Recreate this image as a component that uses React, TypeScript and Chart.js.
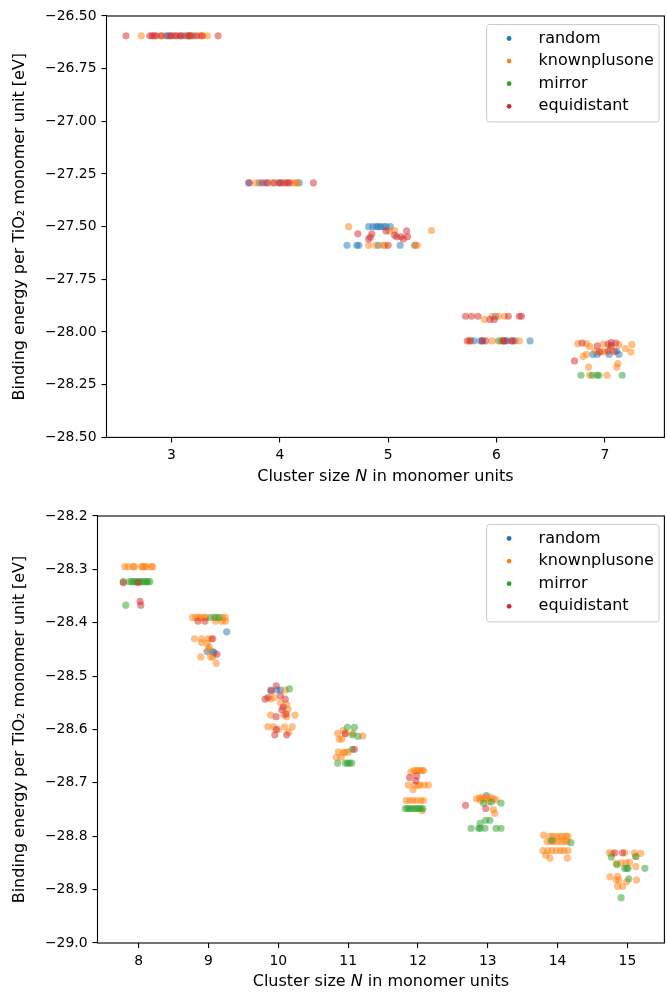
import React, { useEffect, useRef } from "react";
import { Chart, registerables } from "chart.js";
Chart.register(...registerables);

const FONT = "DejaVu Sans";
const FS = 13.9;
const LFS = 16;

const seriesNames = ["random", "knownplusone", "mirror", "equidistant"];
const seriesRGB = ["31,119,180", "255,127,14", "44,160,44", "214,39,40"];

const topXTicks = [3, 4, 5, 6, 7];
const topYTicks = [-28.5, -28.25, -28.0, -27.75, -27.5, -27.25, -27.0, -26.75, -26.5];
const botXTicks = [8, 9, 10, 11, 12, 13, 14, 15];
const botYTicks = [-29.0, -28.9, -28.8, -28.7, -28.6, -28.5, -28.4, -28.3, -28.2];

// ---- top panel (N = 3..7) ----
const topRandom = [
  [2.95, -26.594], [2.99, -26.594], [3.12, -26.594], [3.17, -26.594], [3.2, -26.594],
  [3.71, -27.292], [3.81, -27.292], [3.87, -27.292], [3.99, -27.292], [4.18, -27.292],
  [4.82, -27.5], [4.86, -27.5], [4.89, -27.5], [4.91, -27.5], [4.93, -27.5], [4.96, -27.5], [4.98, -27.5], [5.02, -27.5],
  [4.62, -27.588], [4.71, -27.588], [4.73, -27.588], [4.91, -27.588], [5.11, -27.588], [5.245, -27.588],
  [5.99, -27.925],
  [5.79, -28.042], [5.85, -28.042], [5.87, -28.042], [6.08, -28.042], [6.1, -28.042], [6.17, -28.042], [6.31, -28.042],
  [6.89, -28.106], [6.93, -28.106], [7.04, -28.106], [7.11, -28.09], [7.13, -28.106],
];
const topKnown = [
  [2.72, -26.594], [2.9, -26.594], [3.15, -26.594], [3.19, -26.594], [3.26, -26.594], [3.29, -26.594], [3.33, -26.594],
  [3.78, -27.292], [3.93, -27.292], [4.12, -27.292], [4.15, -27.292], [4.16, -27.292],
  [4.635, -27.5], [5.4, -27.518], [5.01, -27.52], [5.06, -27.518],
  [4.82, -27.588], [4.885, -27.588], [4.955, -27.588], [4.97, -27.588], [5.25, -27.588], [5.27, -27.588],
  [5.96, -27.925], [6.02, -27.925], [6.075, -27.925], [5.89, -27.94],
  [5.75, -28.042], [5.96, -28.042], [6.04, -28.042], [6.21, -28.042],
  [6.75, -28.055], [6.83, -28.055], [6.86, -28.068], [6.985, -28.057], [7.13, -28.06], [7.25, -28.06],
  [7.19, -28.079], [7.24, -28.095], [6.8, -28.115], [6.83, -28.106], [6.91, -28.09], [6.97, -28.093],
  [7.0, -28.095], [7.05, -28.075], [6.85, -28.166], [7.12, -28.15], [7.11, -28.166], [6.86, -28.205], [7.02, -28.205],
];
const topMirror = [
  [6.02, -28.042],
  [6.78, -28.205], [6.885, -28.205], [6.93, -28.205], [6.945, -28.205], [7.16, -28.205],
];
const topEquidistant = [
  [2.58, -26.594], [2.8, -26.594], [2.82, -26.594], [2.84, -26.594], [2.86, -26.594], [2.91, -26.594],
  [2.97, -26.594], [3.0, -26.594], [3.03, -26.594], [3.05, -26.594], [3.08, -26.594], [3.09, -26.594],
  [3.15, -26.594], [3.17, -26.594], [3.23, -26.594], [3.28, -26.594], [3.43, -26.594],
  [3.72, -27.292], [3.84, -27.292], [3.89, -27.292], [3.95, -27.292], [4.0, -27.292], [4.02, -27.292],
  [4.05, -27.292], [4.07, -27.292], [4.09, -27.292], [4.31, -27.292],
  [4.98, -27.52], [5.17, -27.52], [4.72, -27.534], [4.85, -27.534], [4.82, -27.558], [4.835, -27.55],
  [5.06, -27.54], [5.08, -27.548], [5.12, -27.548], [5.14, -27.558], [5.18, -27.548], [5.0, -27.588],
  [5.715, -27.925], [5.77, -27.925], [5.83, -27.925], [6.11, -27.925], [6.21, -27.925], [6.23, -27.925],
  [5.94, -27.94], [5.98, -27.94],
  [5.73, -28.042], [5.76, -28.042], [5.87, -28.042], [5.9, -28.042], [6.06, -28.042], [6.07, -28.042], [6.14, -28.042], [6.15, -28.042],
  [6.79, -28.052], [6.93, -28.066], [7.03, -28.057], [7.06, -28.05], [7.1, -28.052], [6.95, -28.095],
  [7.03, -28.09], [7.09, -28.093], [6.72, -28.137], [7.06, -28.065],
];

// ---- bottom panel (N = 8..15) ----
const botRandom = [
  [9.26, -28.417], [8.98, -28.454], [9.06, -28.454], [9.08, -28.456],
  [9.89, -28.526], [9.98, -28.526], [10.03, -28.526],
  [12.98, -28.724],
];
const botKnown = [
  [7.8, -28.295], [7.85, -28.295], [7.92, -28.295], [7.94, -28.295], [8.04, -28.295], [8.06, -28.295],
  [8.085, -28.295], [8.11, -28.295], [8.18, -28.295], [8.2, -28.295],
  [8.77, -28.39], [8.82, -28.39], [8.86, -28.39], [8.89, -28.39], [8.94, -28.39], [8.96, -28.39], [9.08, -28.39], [9.2, -28.39], [9.24, -28.39],
  [9.1, -28.397], [9.19, -28.397], [9.24, -28.397],
  [8.8, -28.43], [8.9, -28.43], [8.99, -28.43], [9.04, -28.43], [8.9, -28.437], [8.98, -28.439], [9.01, -28.445],
  [9.0, -28.45], [8.89, -28.464], [9.03, -28.464], [9.06, -28.464], [9.11, -28.476],
  [10.1, -28.526], [9.89, -28.543], [9.94, -28.54], [10.03, -28.55], [10.12, -28.553], [10.14, -28.562],
  [10.24, -28.573], [9.89, -28.573], [10.08, -28.573], [10.12, -28.576],
  [9.85, -28.595], [9.93, -28.595], [10.09, -28.595], [10.2, -28.595], [10.0, -28.6], [10.15, -28.605],
  [10.85, -28.607], [10.87, -28.618], [10.91, -28.618], [10.93, -28.602], [10.96, -28.607], [11.07, -28.607], [11.21, -28.612],
  [10.86, -28.642], [10.93, -28.643], [10.96, -28.643], [11.0, -28.642], [10.83, -28.652], [10.9, -28.652],
  [11.94, -28.677], [11.97, -28.677], [12.0, -28.677], [12.03, -28.677], [12.06, -28.677], [12.08, -28.677], [11.9, -28.68],
  [11.86, -28.704], [11.95, -28.704], [12.03, -28.704], [12.09, -28.704], [12.15, -28.704], [12.0, -28.705], [11.93, -28.713],
  [11.83, -28.733], [11.88, -28.733], [11.93, -28.733], [11.98, -28.733], [12.04, -28.733], [12.08, -28.733], [12.06, -28.752],
  [12.84, -28.73], [12.88, -28.728], [12.92, -28.727], [12.95, -28.73], [13.0, -28.728], [13.04, -28.727],
  [13.08, -28.73], [13.12, -28.732], [12.9, -28.733], [13.02, -28.735], [13.08, -28.75], [13.1, -28.757],
  [13.8, -28.798], [13.89, -28.8], [13.93, -28.8], [13.98, -28.8], [14.03, -28.8], [14.07, -28.8], [14.12, -28.8], [14.15, -28.8],
  [13.85, -28.81], [13.9, -28.81], [13.95, -28.81], [14.0, -28.81], [14.05, -28.81], [14.1, -28.81], [14.14, -28.81],
  [13.79, -28.827], [13.86, -28.827], [13.92, -28.827], [13.98, -28.827], [14.04, -28.827], [14.09, -28.827], [14.15, -28.827],
  [13.83, -28.835], [13.89, -28.841], [14.14, -28.841],
  [14.74, -28.831], [14.78, -28.832], [14.96, -28.831], [15.1, -28.831], [15.19, -28.832], [15.12, -28.838],
  [14.84, -28.851], [14.91, -28.85], [14.98, -28.85], [15.03, -28.849], [15.12, -28.857], [14.75, -28.876],
  [14.84, -28.882], [14.88, -28.882], [14.99, -28.885], [15.13, -28.882], [14.86, -28.894], [14.93, -28.894], [14.86, -28.875],
];
const botMirror = [
  [7.78, -28.323], [7.87, -28.323], [7.9, -28.323], [7.93, -28.323], [7.96, -28.323], [7.99, -28.323], [8.02, -28.323],
  [8.05, -28.323], [8.08, -28.323], [8.11, -28.323], [8.13, -28.323], [8.16, -28.323], [7.815, -28.367],
  [9.03, -28.39], [9.11, -28.39], [9.15, -28.39],
  [10.16, -28.524],
  [10.99, -28.596], [11.09, -28.596], [11.06, -28.61], [11.14, -28.613], [11.06, -28.637],
  [10.85, -28.663], [10.96, -28.663], [10.99, -28.663], [11.02, -28.663], [11.05, -28.663],
  [11.82, -28.748], [11.85, -28.748], [11.88, -28.748], [11.91, -28.748], [11.95, -28.748], [11.98, -28.748],
  [12.01, -28.748], [12.04, -28.748], [12.07, -28.748],
  [12.94, -28.738], [13.19, -28.738], [13.05, -28.736], [12.89, -28.776], [12.97, -28.77], [13.03, -28.77],
  [12.76, -28.785], [12.87, -28.785], [12.89, -28.785], [12.96, -28.785], [13.12, -28.785], [13.19, -28.785],
  [13.92, -28.808], [14.19, -28.812],
  [14.77, -28.839], [15.12, -28.838], [14.85, -28.853], [14.96, -28.86], [15.01, -28.86], [14.99, -28.86],
  [15.25, -28.86], [14.91, -28.915], [15.02, -28.88],
];
const botEquidistant = [
  [7.78, -28.325], [7.99, -28.325], [8.02, -28.36], [8.03, -28.367],
  [8.85, -28.397], [8.95, -28.397], [9.06, -28.43], [9.12, -28.459],
  [9.97, -28.518], [9.9, -28.528], [9.81, -28.543], [9.85, -28.54], [10.03, -28.537], [10.1, -28.543],
  [10.07, -28.558], [10.05, -28.563], [9.97, -28.576], [10.11, -28.571], [9.97, -28.6], [9.95, -28.61], [10.12, -28.61],
  [10.96, -28.608], [11.09, -28.637],
  [11.88, -28.69], [11.98, -28.687], [11.97, -28.696],
  [12.68, -28.742], [12.97, -28.748],
  [14.82, -28.831], [14.93, -28.831],
];

type Panel = {
  series: number[][][];
  xMin: number; xMax: number; xTicks: number[];
  yMin: number; yMax: number; yTicks: number[]; yDigits: number;
  padTop: number; yAxisWidth: number; xAxisHeight: number;
};

const W = 668;
const H = 497;

const panels: Panel[] = [
  {
    series: [topRandom, topKnown, topMirror, topEquidistant],
    xMin: 2.4, xMax: 7.55, xTicks: topXTicks,
    yMin: -28.5, yMax: -26.5, yTicks: topYTicks, yDigits: 2,
    padTop: 16, yAxisWidth: 106.5, xAxisHeight: 59.6,
  },
  {
    series: [botRandom, botKnown, botMirror, botEquidistant],
    xMin: 7.41, xMax: 15.53, xTicks: botXTicks,
    yMin: -29.0, yMax: -28.2, yTicks: botYTicks, yDigits: 1,
    padTop: 19, yAxisWidth: 97.5, xAxisHeight: 51,
  },
];

const decor = {
  id: "decor",
  afterDraw(chart: any) {
    const { ctx, chartArea: a } = chart;
    ctx.save();
    // frame
    ctx.strokeStyle = "#000";
    ctx.lineWidth = 1.1;
    ctx.strokeRect(a.left, a.top, a.right - a.left, a.bottom - a.top);
    // x title with italic N
    const normal = `${LFS}px "${FONT}"`;
    const italic = `italic ${LFS}px "${FONT}"`;
    const parts: [string, string][] = [["Cluster size ", normal], ["N", italic], [" in monomer units", normal]];
    let total = 0;
    const widths = parts.map(([t, f]) => { ctx.font = f; const w = ctx.measureText(t).width; total += w; return w; });
    let x = (a.left + a.right) / 2 - total / 2;
    const ty = a.bottom + 39;
    ctx.fillStyle = "#000";
    ctx.textAlign = "left";
    ctx.textBaseline = "middle";
    parts.forEach(([t, f], i) => { ctx.font = f; ctx.fillText(t, x, ty); x += widths[i]; });
    // legend
    const bw = 172.5, bh = 97.4;
    const bx = a.right - 5.3 - bw;
    const by = a.top + 8.5;
    const r = 2.8;
    ctx.beginPath();
    ctx.moveTo(bx + r, by);
    ctx.lineTo(bx + bw - r, by);
    ctx.arcTo(bx + bw, by, bx + bw, by + r, r);
    ctx.lineTo(bx + bw, by + bh - r);
    ctx.arcTo(bx + bw, by + bh, bx + bw - r, by + bh, r);
    ctx.lineTo(bx + r, by + bh);
    ctx.arcTo(bx, by + bh, bx, by + bh - r, r);
    ctx.lineTo(bx, by + r);
    ctx.arcTo(bx, by, bx + r, by, r);
    ctx.closePath();
    ctx.fillStyle = "rgba(255,255,255,0.8)";
    ctx.fill();
    ctx.strokeStyle = "#cccccc";
    ctx.lineWidth = 1;
    ctx.stroke();
    ctx.font = normal;
    seriesNames.forEach((name, i) => {
      const ry = by + 14 + i * 22.6;
      ctx.beginPath();
      ctx.arc(bx + 22.5, ry, 2.4, 0, Math.PI * 2);
      ctx.fillStyle = `rgb(${seriesRGB[i]})`;
      ctx.fill();
      ctx.fillStyle = "#000";
      ctx.fillText(name, bx + 52, ry);
    });
    ctx.restore();
  },
};

function PanelChart({ p, top }: { p: Panel; top: number }) {
  const ref = useRef<HTMLCanvasElement>(null);
  useEffect(() => {
    if (!ref.current) return;
    const order = [4, 3, 2, 1];
    const chart = new Chart(ref.current, {
      type: "scatter",
      data: {
        datasets: p.series.map((pts, i) => ({
          label: seriesNames[i],
          data: pts.map(([x, y]) => ({ x, y })),
          backgroundColor: `rgba(${seriesRGB[i]},0.5)`,
          borderWidth: 0,
          pointRadius: 3.6,
          pointHoverRadius: 3.6,
          order: order[i],
        })),
      },
      options: {
        animation: false,
        responsive: false,
        devicePixelRatio: 1,
        events: [],
        layout: { padding: { top: p.padTop, left: 0, right: 0, bottom: 0 } },
        plugins: { legend: { display: false }, tooltip: { enabled: false } },
        scales: {
          x: {
            type: "linear",
            min: p.xMin,
            max: p.xMax,
            afterBuildTicks: (s: any) => { s.ticks = p.xTicks.map((v) => ({ value: v })); },
            afterFit: (s: any) => { s.height = p.xAxisHeight; },
            ticks: {
              font: { family: FONT, size: FS },
              color: "#000",
              padding: 5,
              maxRotation: 0,
              autoSkip: false,
              callback: (v: any) => String(v),
            },
            grid: { display: true, drawOnChartArea: false, drawTicks: true, tickLength: 5, color: "#000", lineWidth: 1.1 },
            border: { display: false },
          },
          y: {
            type: "linear",
            min: p.yMin,
            max: p.yMax,
            afterBuildTicks: (s: any) => { s.ticks = p.yTicks.map((v) => ({ value: v })); },
            afterFit: (s: any) => { s.width = p.yAxisWidth; },
            ticks: {
              font: { family: FONT, size: FS },
              color: "#000",
              padding: 5,
              autoSkip: false,
              callback: (v: any) => Number(v).toFixed(p.yDigits).replace("-", "\u2212"),
            },
            grid: { display: true, drawOnChartArea: false, drawTicks: true, tickLength: 5, color: "#000", lineWidth: 1.1 },
            border: { display: false },
            title: {
              display: true,
              text: "Binding energy per TiO\u2082 monomer unit [eV]",
              font: { family: FONT, size: LFS },
              color: "#000",
              padding: { top: 10.5, bottom: 0 },
            },
          },
        },
      },
      plugins: [decor],
    } as any);
    return () => chart.destroy();
  }, [p]);
  return (
    <div style={{ position: "absolute", left: 0, top, width: W, height: H }}>
      <canvas ref={ref} width={W} height={H} style={{ display: "block", width: W, height: H }} />
    </div>
  );
}

export default function App() {
  return (
    <div style={{ position: "absolute", left: 0, top: 0, width: 667, height: 994, overflow: "hidden", background: "#fff" }}>
      <PanelChart p={panels[0]} top={0} />
      <PanelChart p={panels[1]} top={497} />
    </div>
  );
}
